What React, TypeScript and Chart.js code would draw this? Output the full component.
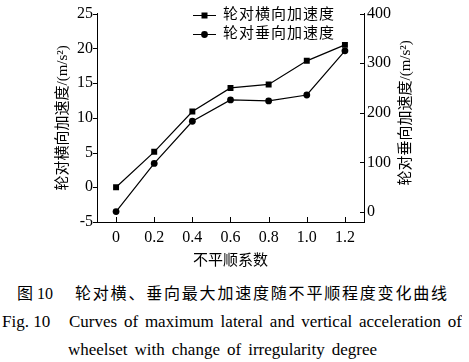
import React, { useEffect, useRef } from 'react';
import { Chart, registerables } from 'chart.js';

Chart.register(...registerables);

const irregularity = [0, 0.2, 0.4, 0.6, 0.8, 1.0, 1.2];
const xTickValues = [0, 0.2, 0.4, 0.6, 0.8, 1.0, 1.2];
const xTickLabels = ['0', '0.2', '0.4', '0.6', '0.8', '1.0', '1.2'];
const lateralAcc = [0, 5.1, 10.9, 14.3, 14.8, 18.2, 20.5];
const verticalAcc = [1, 98, 183, 226, 224, 236, 325];
const leftTicks = [-5, 0, 5, 10, 15, 20, 25];
const rightTicks = [0, 100, 200, 300, 400];
const seriesNames = ['轮对横向加速度', '轮对垂向加速度'];
const leftTitle = '轮对横向加速度/(m/s²)';
const rightTitle = '轮对垂向加速度/(m/s²)';
const xTitle = '不平顺系数';
const captionCnLabel = '图 10';
const captionCn = '轮对横、垂向最大加速度随不平顺程度变化曲线';
const captionEnLabel = 'Fig. 10';
const captionEn1 = 'Curves of maximum lateral and vertical acceleration of';
const captionEn2 = 'wheelset with change of irregularity degree';

const W = 469;
const CH = 275;
const SERIF = "'Liberation Serif', 'Noto Sans CJK SC', serif";
const CJK = "'Liberation Serif', 'Noto Sans CJK SC', sans-serif";

function drawMarker(ctx: CanvasRenderingContext2D, kind: string, x: number, y: number) {
  ctx.beginPath();
  if (kind === 'rect') {
    ctx.rect(x - 3, y - 3, 6, 6);
  } else {
    ctx.arc(x, y, 3.4, 0, Math.PI * 2);
  }
  ctx.fill();
}

const decorPlugin = {
  id: 'decor',
  afterDraw(chart: any) {
    const ctx: CanvasRenderingContext2D = chart.ctx;
    const x = chart.scales.x;
    const yL = chart.scales.yL;
    const yR = chart.scales.yR;
    const area = chart.chartArea;
    ctx.save();
    ctx.strokeStyle = '#000';
    ctx.fillStyle = '#000';
    ctx.lineWidth = 1;
    ctx.beginPath();
    yL.ticks.forEach((t: any) => {
      const py = Math.round(yL.getPixelForValue(t.value)) + 0.5;
      ctx.moveTo(area.left - 4, py);
      ctx.lineTo(area.left, py);
    });
    yR.ticks.forEach((t: any) => {
      const py = Math.round(yR.getPixelForValue(t.value)) + 0.5;
      ctx.moveTo(area.right - 4, py);
      ctx.lineTo(area.right, py);
    });
    x.ticks.forEach((t: any) => {
      const px = Math.round(x.getPixelForValue(t.value)) + 0.5;
      ctx.moveTo(px, area.bottom - 5);
      ctx.lineTo(px, area.bottom);
    });
    ctx.stroke();

    const cy = (area.top + area.bottom) / 2;
    ctx.font = `15px ${CJK}`;
    ctx.textAlign = 'center';
    ctx.textBaseline = 'middle';
    ctx.save();
    ctx.translate(63, cy);
    ctx.rotate(-Math.PI / 2);
    ctx.fillText(leftTitle, 0, 0);
    ctx.restore();
    ctx.save();
    ctx.translate(406, cy - 5);
    ctx.rotate(-Math.PI / 2);
    ctx.fillText(rightTitle, 0, 0);
    ctx.restore();
    ctx.fillText(xTitle, (area.left + area.right) / 2, 261);

    const kinds = ['rect', 'circle'];
    seriesNames.forEach((name, i) => {
      const ly = 15.5 + i * 19;
      ctx.beginPath();
      ctx.moveTo(193, ly);
      ctx.lineTo(216, ly);
      ctx.stroke();
      drawMarker(ctx, kinds[i], 204.5, ly);
      ctx.textAlign = 'left';
      (ctx as any).letterSpacing = '1px';
      ctx.fillText(name, 223, ly);
      (ctx as any).letterSpacing = '0px';
    });
    ctx.restore();
  },
};

export default function App() {
  const ref = useRef<HTMLCanvasElement>(null);
  useEffect(() => {
    if (!ref.current) return;
    const chart = new Chart(ref.current, {
      type: 'line',
      data: {
        datasets: [
          {
            label: seriesNames[0],
            data: irregularity.map((v, i) => ({ x: v, y: lateralAcc[i] })),
            yAxisID: 'yL',
            borderColor: '#000',
            backgroundColor: '#000',
            borderWidth: 1.2,
            pointStyle: 'rect',
            pointRadius: 4.2,
            pointBorderWidth: 0,
            tension: 0,
          },
          {
            label: seriesNames[1],
            data: irregularity.map((v, i) => ({ x: v, y: verticalAcc[i] })),
            yAxisID: 'yR',
            borderColor: '#000',
            backgroundColor: '#000',
            borderWidth: 1.2,
            pointStyle: 'circle',
            pointRadius: 3.4,
            pointBorderWidth: 0,
            tension: 0,
          },
        ],
      },
      options: {
        responsive: false,
        animation: false,
        devicePixelRatio: 1,
        layout: { padding: { top: 9, left: 0, right: 0, bottom: 0 } },
        plugins: { legend: { display: false }, tooltip: { enabled: false }, title: { display: false } },
        scales: {
          x: {
            type: 'linear',
            min: -0.1,
            max: 1.3,
            afterBuildTicks: (s: any) => { s.ticks = xTickValues.map((v) => ({ value: v })); },
            afterFit: (s: any) => { s.height = CH - 222; },
            grid: { display: false, drawTicks: false },
            border: { display: true, color: '#000', width: 1 },
            ticks: {
              color: '#000',
              padding: 6,
              maxRotation: 0,
              font: { family: SERIF, size: 16 },
              callback: (_v: any, i: number) => xTickLabels[i],
            },
          },
          yL: {
            type: 'linear',
            position: 'left',
            min: -5,
            max: 25,
            afterBuildTicks: (s: any) => { s.ticks = leftTicks.map((v) => ({ value: v })); },
            afterFit: (s: any) => { s.width = 97; },
            grid: { display: false, drawTicks: false },
            border: { display: true, color: '#000', width: 1 },
            ticks: { color: '#000', padding: 4, font: { family: SERIF, size: 16 } },
          },
          yR: {
            type: 'linear',
            position: 'right',
            min: -20,
            max: 400,
            afterBuildTicks: (s: any) => { s.ticks = rightTicks.map((v) => ({ value: v })); },
            afterFit: (s: any) => { s.width = W - 364; },
            grid: { display: false, drawTicks: false },
            border: { display: true, color: '#000', width: 1 },
            ticks: { color: '#000', padding: 3, font: { family: SERIF, size: 16 } },
          },
        },
      },
      plugins: [decorPlugin],
    });
    return () => chart.destroy();
  }, []);

  const lineBase: React.CSSProperties = {
    position: 'absolute',
    whiteSpace: 'nowrap',
    lineHeight: '20px',
    color: '#000',
  };
  const just: React.CSSProperties = {
    ...lineBase,
    whiteSpace: 'normal',
    textAlign: 'justify',
    textAlignLast: 'justify' as any,
    overflow: 'hidden',
    height: 20,
  };

  return (
    <div style={{ position: 'absolute', left: 0, top: 0, width: W, height: 362, background: '#fff', overflow: 'hidden' }}>
      <canvas ref={ref} width={W} height={CH} style={{ position: 'absolute', left: 0, top: 0, width: W, height: CH }} />
      <div style={{ ...lineBase, left: 17, top: 284, fontSize: 16, fontFamily: CJK }}>{captionCnLabel}</div>
      <div style={{ ...just, left: 75, top: 284, width: 372, fontSize: 16, fontFamily: CJK }}>{captionCn}</div>
      <div style={{ ...lineBase, left: 2, top: 312, fontSize: 17, fontFamily: SERIF }}>{captionEnLabel}</div>
      <div style={{ ...just, left: 69, top: 312, width: 393, fontSize: 17, fontFamily: SERIF }}>{captionEn1}</div>
      <div style={{ ...just, left: 68, top: 340, width: 309, fontSize: 17, fontFamily: SERIF }}>{captionEn2}</div>
    </div>
  );
}
